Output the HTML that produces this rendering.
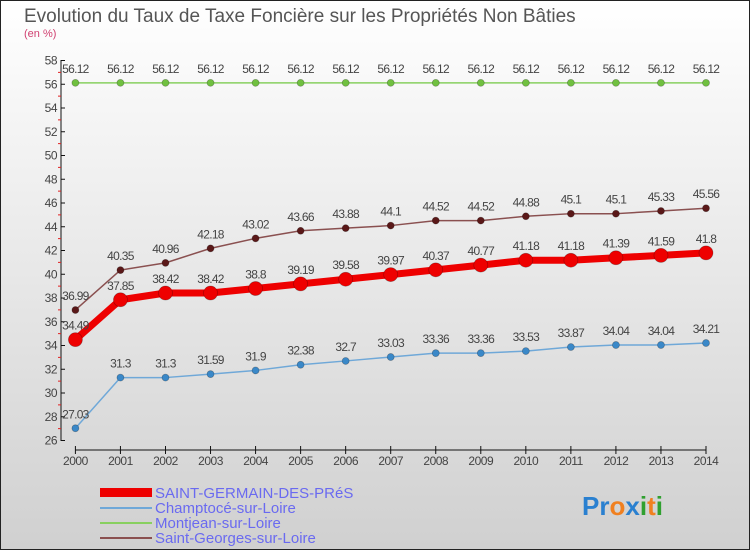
<!DOCTYPE html>
<html><head><meta charset="utf-8"><style>
body{margin:0;}
svg text{font-family:"Liberation Sans",sans-serif;}
</style></head><body>
<svg width="750" height="550" xmlns="http://www.w3.org/2000/svg">
<defs><linearGradient id="bg" x1="0" y1="0" x2="0" y2="1"><stop offset="0" stop-color="#ffffff"/><stop offset="1" stop-color="#d0d0d0"/></linearGradient></defs>
<rect x="0.5" y="0.5" width="749" height="549" fill="url(#bg)" stroke="#222"/>
<text x="24" y="22" font-size="19" fill="#555">Evolution du Taux de Taxe Foncière sur les Propriétés Non Bâties</text>
<text x="24" y="37" font-size="11" fill="#d04070">(en %)</text>
<g id="axes"></g>
<g id="series"></g>
<g>
<rect x="100" y="488" width="52" height="9" fill="#ee0000"/>
<text x="155" y="498" font-size="15" fill="#6a6af0">SAINT-GERMAIN-DES-PRéS</text>
<rect x="100" y="507" width="52" height="2" fill="#6fa8d8"/>
<text x="155" y="513" font-size="15" fill="#6a6af0">Champtocé-sur-Loire</text>
<rect x="100" y="522" width="52" height="2" fill="#88d060"/>
<text x="155" y="528" font-size="15" fill="#6a6af0">Montjean-sur-Loire</text>
<rect x="100" y="537" width="52" height="2" fill="#8a5050"/>
<text x="155" y="543" font-size="15" fill="#6a6af0">Saint-Georges-sur-Loire</text>
</g>
<text x="582" y="515" font-size="26" font-weight="bold"><tspan fill="#2a80d0">Pr</tspan><tspan fill="#f08020">o</tspan><tspan fill="#2a80d0">x</tspan><tspan fill="#30a030">i</tspan><tspan fill="#f08020">t</tspan><tspan fill="#30a030">i</tspan></text>
</svg>
<script>
const years=[2000,2001,2002,2003,2004,2005,2006,2007,2008,2009,2010,2011,2012,2013,2014];
const sgdp=[34.49,37.85,38.42,38.42,38.8,39.19,39.58,39.97,40.37,40.77,41.18,41.18,41.39,41.59,41.8];
const champ=[27.03,31.3,31.3,31.59,31.9,32.38,32.7,33.03,33.36,33.36,33.53,33.87,34.04,34.04,34.21];
const montj=[56.12,56.12,56.12,56.12,56.12,56.12,56.12,56.12,56.12,56.12,56.12,56.12,56.12,56.12,56.12];
const sgeo=[36.99,40.35,40.96,42.18,43.02,43.66,43.88,44.1,44.52,44.52,44.88,45.1,45.1,45.33,45.56];
const yTicks=[26,28,30,32,34,36,38,40,42,44,46,48,50,52,54,56,58];
const NS="http://www.w3.org/2000/svg";
const X=i=>75.4+i*(706-75.4)/(years.length-1);
const Y=v=>440.5-(v-26)*(380/32);
function mk(t,a,p){const e=document.createElementNS(NS,t);for(const k in a)e.setAttribute(k,a[k]);p.appendChild(e);return e;}
const ax=document.getElementById('axes');
const yl=mk('line',{x1:61,y1:60,x2:61,y2:441,stroke:'#111','stroke-width':1},ax);


const xl=mk('line',{x1:75,y1:450,x2:706,y2:450,stroke:'#111','stroke-width':1},ax);


yTicks.forEach(v=>{
  mk('line',{x1:61,y1:Y(v),x2:65,y2:Y(v),stroke:'#111'},ax);
  if(v<58){mk('line',{x1:58,y1:Y(v+1),x2:61,y2:Y(v+1),stroke:'#e02020'},ax);}
  const t=mk('text',{x:57,y:Y(v)+4,'font-size':12,'text-anchor':'end',fill:'#444','letter-spacing':'-0.5'},ax);
  t.textContent=v;
  
  
});
years.forEach((y,i)=>{
  mk('line',{x1:X(i),y1:446,x2:X(i),y2:454,stroke:'#111'},ax);
  const t=mk('text',{x:X(i),y:465,'font-size':12,'text-anchor':'middle',fill:'#444','letter-spacing':'-0.5'},ax);
  t.textContent=y;
  
  
});
const sg=document.getElementById('series');
function series(data,name,color,w,r,dot){
  const g=mk('g',{},sg);
  
  
  const pl=mk('polyline',{points:data.map((v,i)=>X(i)+','+Y(v)).join(' '),fill:'none',stroke:color,'stroke-width':w,'stroke-linejoin':'round'},g);
  
  
  data.forEach((v,i)=>{
    const c=mk('circle',{cx:X(i),cy:Y(v),r:r,fill:dot,stroke:'rgba(0,0,0,0.3)','stroke-width':0.7},g);
    
    
    const t=mk('text',{x:X(i),y:Y(v)-10,'font-size':12,'text-anchor':'middle',fill:'#444','letter-spacing':'-0.7'},g);
    t.textContent=v;
    
    
  });
}
series(montj,'montjean','#88d060',1.5,3.5,'#70c040');
series(champ,'champtoce','#6fa8d8',1.5,3.5,'#3a88c8');
series(sgeo,'saint-georges','#8a5050',1.5,3.5,'#5a1818');
series(sgdp,'saint-germain','#ee0000',7,7,'#ee0000');
</script>
</body></html>
